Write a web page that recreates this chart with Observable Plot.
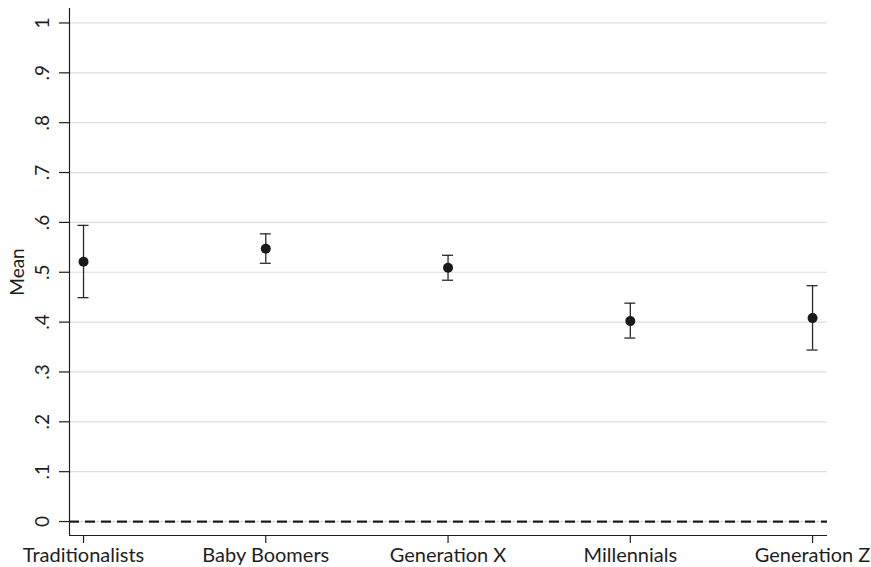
<!DOCTYPE html>
<html>
<head>
<meta charset="utf-8">
<script src="https://cdn.jsdelivr.net/npm/d3@7"></script>
<script src="https://cdn.jsdelivr.net/npm/@observablehq/plot@0.6"></script>
<style>
  html, body { margin: 0; padding: 0; background: #fff; }
  #chart svg { display: block; }
</style>
</head>
<body>
<div id="chart"></div>
<script>
const categories = ["Traditionalists", "Baby Boomers", "Generation X", "Millennials", "Generation Z"];
const means = [0.521, 0.547, 0.509, 0.402, 0.408];
const lower = [0.449, 0.518, 0.484, 0.368, 0.344];
const upper = [0.594, 0.577, 0.534, 0.438, 0.473];
const yTicks = [0, 0.1, 0.2, 0.3, 0.4, 0.5, 0.6, 0.7, 0.8, 0.9, 1];
const yTickLabels = ["0", ".1", ".2", ".3", ".4", ".5", ".6", ".7", ".8", ".9", "1"];
const yTitle = "Mean";

const data = categories.map((c, i) => ({idx: i + 1, cat: c, mean: means[i], lo: lower[i], hi: upper[i]}));
const yTickData = yTicks.map((v, i) => ({v, label: yTickLabels[i]}));

const xDomain = [0.923, 5.082];
const yDomain = [-0.028, 1.029];
const font = "Lato, 'Open Sans', sans-serif";
const ink = "#1e1e1e";

const chart = Plot.plot({
  width: 871,
  height: 567,
  marginLeft: 69,
  marginRight: 44,
  marginTop: 8,
  marginBottom: 32,
  style: {fontFamily: font, background: "#fff", color: ink},
  x: {type: "linear", domain: xDomain, axis: null},
  y: {type: "linear", domain: yDomain, axis: null},
  marks: [
    // grid
    Plot.ruleY(yTicks, {stroke: "#dedede", strokeWidth: 1.2}),
    // zero reference line
    Plot.ruleY([0], {stroke: ink, strokeWidth: 2.2, strokeDasharray: "10,6"}),
    // axis lines
    Plot.ruleY([yDomain[0]], {stroke: ink, strokeWidth: 1.2}),
    Plot.ruleX([xDomain[0]], {stroke: ink, strokeWidth: 1.2}),
    // y ticks
    Plot.ruleY(yTicks, {x1: xDomain[0], x2: xDomain[0], insetLeft: -10, stroke: ink, strokeWidth: 1.2}),
    Plot.text(yTickData, {
      x: xDomain[0], y: "v", text: "label", rotate: -90, dx: -27,
      textAnchor: "middle", lineAnchor: "middle", fontSize: 19, fill: ink
    }),
    Plot.text([yTitle], {
      frameAnchor: "left", text: d => d, rotate: -90, dx: -52,
      textAnchor: "middle", lineAnchor: "middle", fontSize: 19, fill: ink
    }),
    // x ticks and labels
    Plot.axisX(data.map(d => d.idx), {
      tickSize: 8, tickPadding: 4, fontSize: 20, stroke: ink, strokeWidth: 1.2,
      tickFormat: i => categories[i - 1], fill: ink, anchor: "bottom", label: null
    }),
    // error bars
    Plot.ruleX(data, {x: "idx", y1: "lo", y2: "hi", stroke: "#2a2a2a", strokeWidth: 1.3}),
    Plot.ruleY(data, {y: "hi", x1: "idx", x2: "idx", insetLeft: -5.5, insetRight: -5.5, stroke: "#2a2a2a", strokeWidth: 1.3}),
    Plot.ruleY(data, {y: "lo", x1: "idx", x2: "idx", insetLeft: -5.5, insetRight: -5.5, stroke: "#2a2a2a", strokeWidth: 1.3}),
    // means
    Plot.dot(data, {x: "idx", y: "mean", r: 5, fill: "#1a1a1a", stroke: "none"})
  ]
});
document.getElementById("chart").appendChild(chart);
</script>
</body>
</html>
